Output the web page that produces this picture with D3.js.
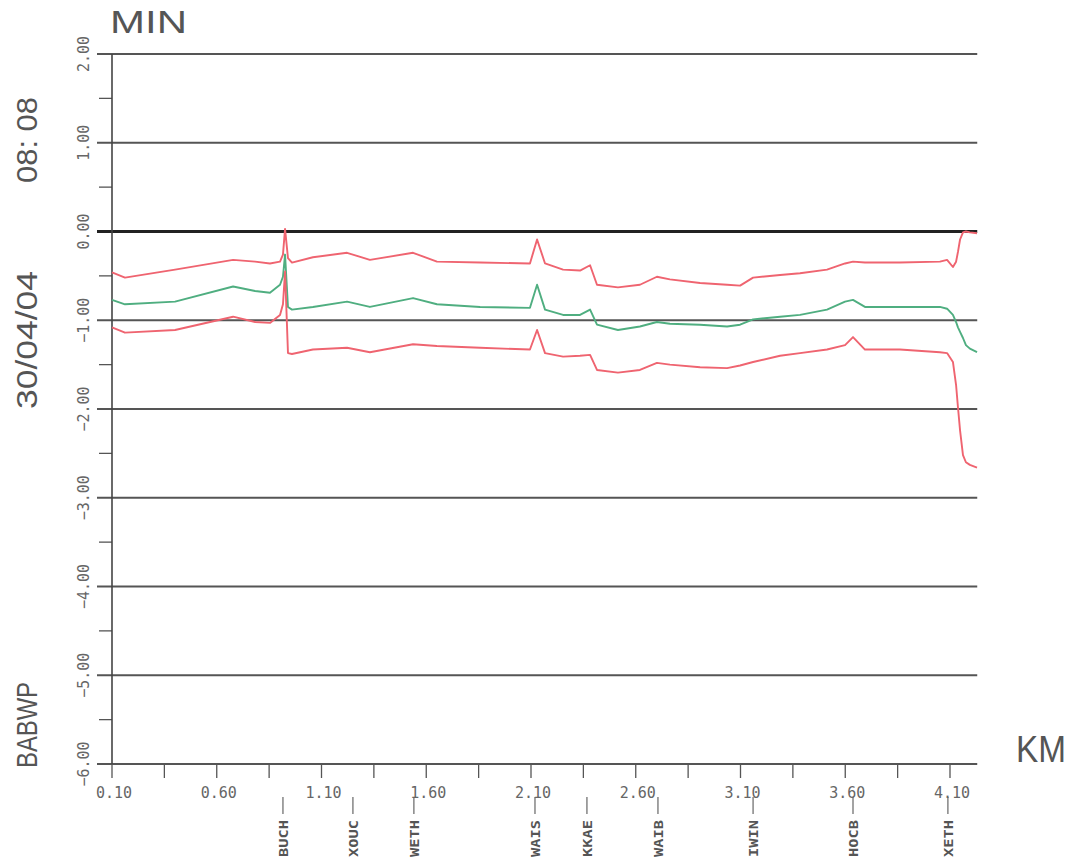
<!DOCTYPE html>
<html>
<head>
<meta charset="utf-8">
<script src="https://cdn.jsdelivr.net/npm/d3@7"></script>
<style>
  body { margin: 0; background: #fff; }
  svg { display: block; }
</style>
</head>
<body>
<div id="chart"></div>
<script>
// distance along line (km) and deviation (min) for the three traces
const km = [0.100, 0.162, 0.401, 0.678, 0.783, 0.854, 0.902, 0.916, 0.926, 0.940,
  0.959, 1.059, 1.222, 1.331, 1.537, 1.651, 1.857, 2.095, 2.129, 2.167,
  2.253, 2.334, 2.382, 2.415, 2.515, 2.620, 2.701, 2.763, 2.907, 3.036,
  3.098, 3.160, 3.289, 3.384, 3.513, 3.599, 3.637, 3.694, 3.861, 4.052,
  4.086, 4.114, 4.129, 4.138, 4.148, 4.162, 4.176, 4.195, 4.229];

const upper = [-0.46, -0.52, -0.43, -0.32, -0.34, -0.36, -0.34, -0.26, 0.03, -0.30,
  -0.35, -0.29, -0.24, -0.32, -0.24, -0.34, -0.35, -0.36, -0.09, -0.36,
  -0.43, -0.44, -0.38, -0.60, -0.63, -0.60, -0.51, -0.54, -0.58, -0.60,
  -0.61, -0.52, -0.49, -0.47, -0.43, -0.36, -0.34, -0.35, -0.35, -0.34,
  -0.32, -0.40, -0.34, -0.23, -0.09, -0.01, 0.00, -0.01, -0.02];

const middle = [-0.77, -0.82, -0.79, -0.62, -0.67, -0.69, -0.60, -0.51, -0.26, -0.85,
  -0.88, -0.85, -0.79, -0.85, -0.75, -0.82, -0.85, -0.86, -0.60, -0.88,
  -0.94, -0.94, -0.88, -1.05, -1.11, -1.07, -1.02, -1.04, -1.05, -1.07,
  -1.05, -0.99, -0.96, -0.94, -0.88, -0.79, -0.77, -0.85, -0.85, -0.85,
  -0.87, -0.94, -1.02, -1.08, -1.13, -1.20, -1.28, -1.32, -1.36];

const lower = [-1.08, -1.14, -1.11, -0.96, -1.02, -1.03, -0.94, -0.82, -0.45, -1.37,
  -1.38, -1.33, -1.31, -1.36, -1.27, -1.29, -1.31, -1.33, -1.11, -1.37,
  -1.41, -1.40, -1.39, -1.56, -1.59, -1.56, -1.48, -1.50, -1.53, -1.54,
  -1.51, -1.47, -1.40, -1.37, -1.33, -1.28, -1.19, -1.33, -1.33, -1.36,
  -1.37, -1.47, -1.73, -1.98, -2.24, -2.52, -2.60, -2.63, -2.66];

const stations = ["BUCH", "XOUC", "WETH", "WAIS", "KKAE", "WAIB", "IWIN", "HOCB", "XETH"];
const stationKm = [0.916, 1.250, 1.541, 2.119, 2.367, 2.706, 3.160, 3.637, 4.090];

const xTickLabels = [0.10, 0.60, 1.10, 1.60, 2.10, 2.60, 3.10, 3.60, 4.10];
const yTicks = [2, 1, 0, -1, -2, -3, -4, -5, -6];

const width = 1070, height = 859;

const x = d3.scaleLinear().domain([0.1, 4.1]).range([112, 950]);
const y = d3.scaleLinear().domain([-6, 2]).range([764, 54]);
const xEnd = 4.23;

const svg = d3.select("#chart")
  .append("svg")
  .attr("width", width)
  .attr("height", height)
  .attr("viewBox", [0, 0, width, height]);

const grey = "#555";

// horizontal grid lines (major y ticks)
svg.append("g")
  .selectAll("line")
  .data(yTicks)
  .join("line")
  .attr("x1", 97)
  .attr("x2", x(xEnd))
  .attr("y1", d => y(d))
  .attr("y2", d => y(d))
  .attr("stroke", d => d === 0 ? "#222" : "#555")
  .attr("stroke-width", d => d === 0 ? 3 : 1.8);

// half-unit minor ticks on the y axis
svg.append("g")
  .selectAll("line")
  .data(d3.range(-5.5, 2, 1))
  .join("line")
  .attr("x1", 99)
  .attr("x2", 112)
  .attr("y1", d => y(d))
  .attr("y2", d => y(d))
  .attr("stroke", grey)
  .attr("stroke-width", 1.3);

// y axis line
svg.append("line")
  .attr("x1", x(0.1)).attr("x2", x(0.1))
  .attr("y1", y(2)).attr("y2", y(-6))
  .attr("stroke", "#444")
  .attr("stroke-width", 1.6);

// y tick labels, rotated
svg.append("g")
  .attr("font-family", "DejaVu Sans Mono, monospace")
  .attr("font-size", 15)
  .attr("fill", "#666")
  .attr("text-anchor", "middle")
  .selectAll("text")
  .data(yTicks)
  .join("text")
  .attr("transform", d => `translate(89,${y(d)}) rotate(-90)`)
  .text(d => d3.format(".2f")(d));

// x ticks every 0.25 km
svg.append("g")
  .selectAll("line")
  .data(d3.range(0.1, 4.2, 0.25))
  .join("line")
  .attr("x1", d => x(d))
  .attr("x2", d => x(d))
  .attr("y1", y(-6))
  .attr("y2", y(-6) + 14)
  .attr("stroke", grey)
  .attr("stroke-width", 1.3);

// x tick labels
svg.append("g")
  .attr("font-family", "DejaVu Sans Mono, monospace")
  .attr("font-size", 15)
  .attr("fill", "#666")
  .attr("text-anchor", "middle")
  .selectAll("text")
  .data(xTickLabels)
  .join("text")
  .attr("x", d => x(d) + 2)
  .attr("y", 798)
  .text(d => d3.format(".2f")(d));

// station markers and names
svg.append("g")
  .selectAll("line")
  .data(stationKm)
  .join("line")
  .attr("x1", d => x(d))
  .attr("x2", d => x(d))
  .attr("y1", 797)
  .attr("y2", 814)
  .attr("stroke", "#666")
  .attr("stroke-width", 1.2);

svg.append("g")
  .attr("font-family", "DejaVu Sans Mono, monospace")
  .attr("font-size", 12)
  .attr("font-weight", "bold")
  .attr("fill", "#555")
  .attr("text-anchor", "start")
  .selectAll("text")
  .data(stations)
  .join("text")
  .attr("transform", (d, i) => `translate(${x(stationKm[i]) + 5},857) rotate(-90)`)
  .attr("textLength", 37)
  .attr("lengthAdjust", "spacingAndGlyphs")
  .text(d => d);

// the three traces
const line = d3.line()
  .x((d, i) => x(km[i]))
  .y(d => y(d));

const traces = [
  { values: upper, color: "#ef6470" },
  { values: middle, color: "#4fae80" },
  { values: lower, color: "#ef6470" }
];

svg.append("g")
  .attr("fill", "none")
  .attr("stroke-width", 1.9)
  .attr("stroke-linejoin", "round")
  .selectAll("path")
  .data(traces)
  .join("path")
  .attr("stroke", d => d.color)
  .attr("d", d => line(d.values));

// big labels
svg.append("text")
  .attr("x", 110)
  .attr("y", 33)
  .attr("font-family", "Liberation Sans, Arial, sans-serif")
  .attr("font-size", 31)
  .attr("fill", "#555")
  .attr("textLength", 77)
  .attr("lengthAdjust", "spacingAndGlyphs")
  .text("MIN");

svg.append("text")
  .attr("x", 1016)
  .attr("y", 762)
  .attr("font-family", "Liberation Sans, Arial, sans-serif")
  .attr("font-size", 36)
  .attr("fill", "#555")
  .attr("textLength", 50)
  .attr("lengthAdjust", "spacingAndGlyphs")
  .text("KM");

const sideLabels = [
  { text: "08: 08", cy: 140, len: 86 },
  { text: "30/04/04", cy: 340, len: 138 },
  { text: "BABWP", cy: 725, len: 86 }
];

svg.append("g")
  .attr("font-family", "Liberation Sans, Arial, sans-serif")
  .attr("font-size", 30)
  .attr("fill", "#555")
  .attr("text-anchor", "middle")
  .selectAll("text")
  .data(sideLabels)
  .join("text")
  .attr("transform", d => `translate(37,${d.cy}) rotate(-90)`)
  .attr("textLength", d => d.len)
  .attr("lengthAdjust", "spacingAndGlyphs")
  .text(d => d.text);
</script>
</body>
</html>
